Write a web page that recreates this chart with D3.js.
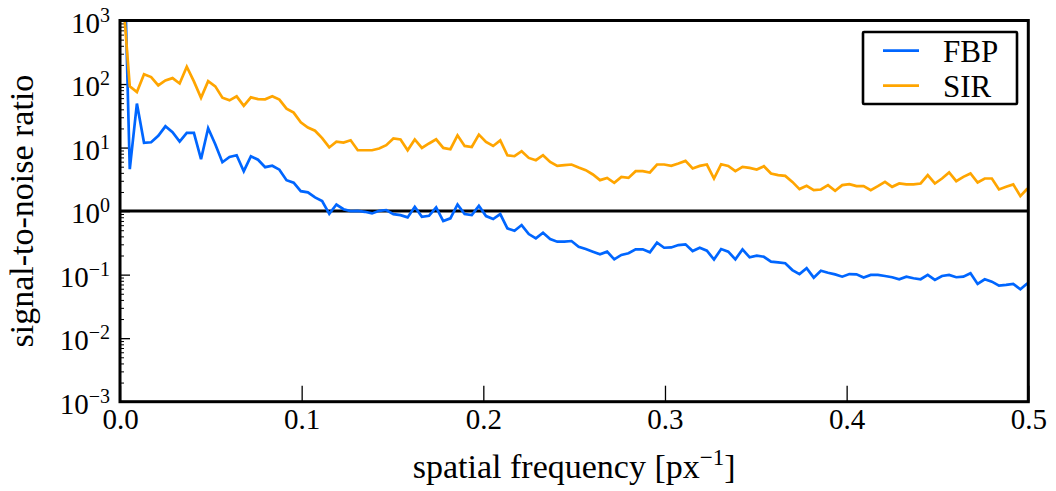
<!DOCTYPE html>
<html>
<head>
<meta charset="utf-8">
<script src="https://cdn.jsdelivr.net/npm/d3@7"></script>
<style>
  html, body { margin: 0; padding: 0; background: #fff; }
</style>
</head>
<body>
<div id="chart"></div>
<script>
// frequency bins: centre of first bin and bin width, in px^-1
var freqStart = 0.00146, freqStep = 0.003922;

// signal-to-noise ratio per frequency bin
var fbp = [
  1e5, 4.57, 49.2, 11.9, 12.1, 15.3, 21.6, 17.4, 12.4, 17.0,
  17.0, 6.56, 20.1, 11.3, 5.88, 7.13, 7.58, 4.25, 7.31, 6.44,
  4.91, 5.18, 4.49, 3.07, 2.80, 2.06, 1.97, 1.64, 1.44, 0.907,
  1.27, 1.07, 1.00, 1.01, 0.975, 0.920, 1.01, 1.04, 0.897, 0.865,
  0.796, 1.17, 0.814, 0.844, 1.14, 0.697, 0.768, 1.27, 0.897, 0.865,
  1.21, 0.835, 0.749, 0.897, 0.535, 0.490, 0.603, 0.435, 0.373, 0.456,
  0.363, 0.330, 0.330, 0.338, 0.275, 0.253, 0.230, 0.209, 0.230, 0.174,
  0.204, 0.217, 0.250, 0.250, 0.225, 0.318, 0.265, 0.268, 0.292, 0.300,
  0.235, 0.265, 0.238, 0.173, 0.253, 0.230, 0.174, 0.250, 0.187, 0.199,
  0.191, 0.160, 0.156, 0.151, 0.118, 0.102, 0.126, 0.0896, 0.115, 0.107,
  0.101, 0.0929, 0.102, 0.101, 0.0903, 0.0988, 0.0988, 0.0953, 0.0910, 0.0846,
  0.0929, 0.0877, 0.0846, 0.0988, 0.0825, 0.0953, 0.0988, 0.0910, 0.0929, 0.105,
  0.0714, 0.0846, 0.0776, 0.0671, 0.0689, 0.0714, 0.0589, 0.0732
];
var sir = [
  2650, 91.8, 75, 143, 129, 95, 114, 124, 102, 187,
  110, 60.6, 111, 91.8, 61, 55.4, 64, 45.4, 61.7, 58,
  57.4, 64, 56.8, 41, 35.5, 25, 20.7, 18.4, 14.1, 10.05,
  12.4, 12.0, 13.0, 9.08, 9.08, 9.08, 9.66, 10.9, 13.9, 13.4,
  9.08, 13.4, 9.87, 11.6, 13.5, 9.87, 9.42, 15.6, 10.6, 10.2,
  16.0, 12.3, 10.6, 13.0, 7.58, 7.31, 8.75, 6.87, 6.32, 7.58,
  5.95, 5.15, 5.28, 5.41, 4.86, 4.41, 3.77, 3.07, 3.33, 2.78,
  3.46, 3.33, 4.25, 4.25, 4.05, 5.41, 5.41, 5.15, 5.61, 6.17,
  4.69, 5.15, 5.41, 3.26, 5.47, 5.15, 4.25, 4.96, 4.79, 4.52,
  5.09, 3.91, 3.68, 3.58, 2.88, 2.22, 2.50, 2.14, 2.19, 2.56,
  2.08, 2.56, 2.65, 2.47, 2.47, 2.14, 2.47, 2.88, 2.41, 2.72,
  2.63, 2.63, 2.72, 3.68, 2.72, 3.26, 4.05, 2.96, 3.46, 3.91,
  2.82, 3.26, 3.26, 2.19, 2.41, 2.63, 1.72, 2.27
];

var seriesNames = ['FBP', 'SIR'];
var seriesColors = ['#0066ff', '#ffa500'];
var xTicks = [0, 0.1, 0.2, 0.3, 0.4, 0.5];
var yExponents = [-3, -2, -1, 0, 1, 2, 3];

var freq = fbp.map(function (d, i) { return freqStart + i * freqStep; });

var FONT = "'Liberation Serif', 'DejaVu Serif', 'Noto Serif', 'FreeSerif', 'Tinos', " +
  "'Times New Roman', Times, 'Nimbus Roman', 'Noto Serif CJK SC', Georgia, serif";
var width = 1056, height = 491;
var margin = { top: 20.5, right: 27.7, bottom: 89.3, left: 120 };
var iw = width - margin.left - margin.right;
var ih = height - margin.top - margin.bottom;

var x = d3.scaleLinear().domain([0, 0.5]).range([0, iw]);
var y = d3.scaleLog().domain([1e-3, 1e3]).range([ih, 0]);

var svg = d3.select('#chart').append('svg').attr('width', width).attr('height', height)
  .style('font-family', FONT);
var g = svg.append('g').attr('transform', 'translate(' + margin.left + ',' + margin.top + ')');

svg.append('defs').append('clipPath').attr('id', 'plot-clip')
  .append('rect').attr('x', 0).attr('y', 0).attr('width', iw).attr('height', ih);

// x axis: long inward major ticks on the bottom only
var xAxis = g.append('g').attr('transform', 'translate(0,' + ih + ')')
  .call(d3.axisBottom(x).tickValues(xTicks).tickSizeInner(-16).tickSizeOuter(0).tickFormat(d3.format('.1f')));
xAxis.attr('font-family', null);
xAxis.select('.domain').remove();
xAxis.selectAll('.tick line').attr('stroke', '#000').attr('stroke-width', 1.3);
xAxis.selectAll('.tick text').attr('y', 27).attr('dy', 0).attr('fill', '#000')
  .attr('font-size', 29).style('font-family', FONT);

// y axis: major and minor log ticks, inward
var yMinor = [];
yExponents.slice(0, -1).forEach(function (e) {
  for (var m = 2; m <= 9; m++) yMinor.push(m * Math.pow(10, e));
});
var yMajor = yExponents.map(function (e) { return Math.pow(10, e); });

var yAxisMinor = g.append('g').call(d3.axisLeft(y).tickValues(yMinor).tickSize(-4).tickFormat(''));
yAxisMinor.select('.domain').remove();
yAxisMinor.selectAll('.tick line').attr('stroke', '#000').attr('stroke-width', 1);

var yAxis = g.append('g').call(d3.axisLeft(y).tickValues(yMajor).tickSize(-10).tickFormat(''));
yAxis.select('.domain').remove();
yAxis.selectAll('.tick line').attr('stroke', '#000').attr('stroke-width', 1.3);

var yLabels = g.append('g');
yExponents.forEach(function (e) {
  var t = yLabels.append('text')
    .attr('x', -10).attr('y', y(Math.pow(10, e)) + 12)
    .attr('text-anchor', 'end').attr('font-size', 29).style('font-family', FONT).attr('fill', '#000');
  t.append('tspan').text('10');
  t.append('tspan').attr('dy', -11).attr('font-size', 20).text(e < 0 ? '\u2212' + (-e) : String(e));
});

// reference line at SNR = 1
g.append('line').attr('x1', 0).attr('x2', iw).attr('y1', y(1)).attr('y2', y(1))
  .attr('stroke', '#000').attr('stroke-width', 3);

// series
var line = d3.line()
  .x(function (d, i) { return x(freq[i]); })
  .y(function (d) { return y(d); });
var plot = g.append('g').attr('clip-path', 'url(#plot-clip)');
[fbp, sir].forEach(function (s, i) {
  plot.append('path').datum(s).attr('d', line)
    .attr('fill', 'none').attr('stroke', seriesColors[i]).attr('stroke-width', 2.7)
    .attr('stroke-linejoin', 'miter');
});

// frame
g.append('rect').attr('x', 0).attr('y', 0).attr('width', iw).attr('height', ih)
  .attr('fill', 'none').attr('stroke', '#000').attr('stroke-width', 3);

// axis labels
svg.append('text')
  .attr('transform', 'translate(33,' + (margin.top + ih / 2) + ') rotate(-90)')
  .attr('text-anchor', 'middle').attr('font-size', 34).style('font-family', FONT).attr('fill', '#000')
  .text('signal-to-noise ratio');

var xl = svg.append('text')
  .attr('x', margin.left + iw / 2).attr('y', 478)
  .attr('text-anchor', 'middle').attr('font-size', 34).style('font-family', FONT).attr('fill', '#000');
xl.append('tspan').text('spatial frequency [px');
xl.append('tspan').attr('dy', -13).attr('font-size', 23).text('\u22121');
xl.append('tspan').attr('dy', 13).text(']');

// legend
var lg = svg.append('g');
lg.append('rect').attr('x', 863).attr('y', 32).attr('width', 154).attr('height', 72)
  .attr('rx', 1).attr('fill', '#fff').attr('stroke', '#000').attr('stroke-width', 2.6);
seriesNames.forEach(function (name, i) {
  var ly = 50.7 + i * 35;
  lg.append('line').attr('x1', 883).attr('x2', 919).attr('y1', ly).attr('y2', ly)
    .attr('stroke', seriesColors[i]).attr('stroke-width', 2.7);
  lg.append('text').attr('x', 943).attr('y', ly + 11).attr('font-size', 31)
    .style('font-family', FONT).attr('fill', '#000').text(name);
});
</script>
</body>
</html>
